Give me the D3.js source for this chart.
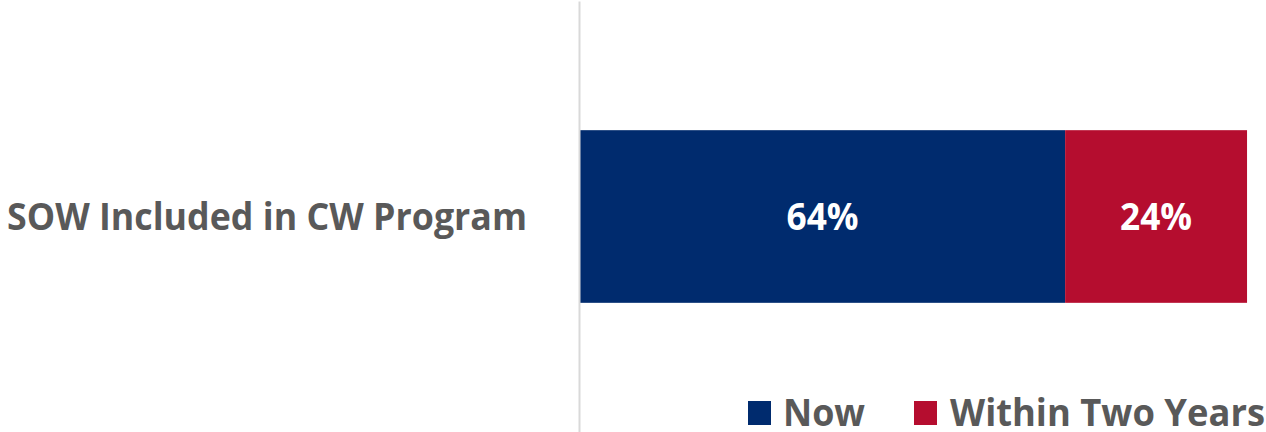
<!DOCTYPE html>
<html>
<head>
<meta charset="utf-8">
<script src="https://cdn.jsdelivr.net/npm/d3@7"></script>
<style>
  html, body { margin: 0; padding: 0; background: #fff; }
  svg { display: block; }
  text { font-family: "Open Sans", Lato, sans-serif; font-weight: 700; }
</style>
</head>
<body>
<svg id="chart" width="1266" height="432"></svg>
<script>
const categories = ["SOW Included in CW Program"];
const seriesNames = ["Now", "Within Two Years"];
const nowValues = [64];
const twoYearValues = [24];
const seriesColors = ["#002B6E", "#B50D2F"];

const W = 1266, H = 432;
const svg = d3.select("#chart");

const x0 = 580;
const x = d3.scaleLinear().domain([0, 100]).range([x0, x0 + 758]);
const y = d3.scaleBand().domain(categories).range([1, H]).paddingInner(0.428).paddingOuter(0.428);

const stackData = categories.map((c, i) => ({cat: c, Now: nowValues[i], "Within Two Years": twoYearValues[i]}));
const stacked = d3.stack().keys(seriesNames)(stackData);

// bars
const groups = svg.append("g").selectAll("g").data(stacked).join("g")
  .attr("fill", (d, i) => seriesColors[i]);
groups.selectAll("rect").data(d => d.map(v => ({v, key: d.key}))).join("rect")
  .attr("x", d => x(d.v[0]))
  .attr("y", d => y(d.v.data.cat))
  .attr("width", d => x(d.v[1]) - x(d.v[0]))
  .attr("height", y.bandwidth());

// value labels
groups.selectAll("text").data(d => d.map(v => ({v, key: d.key}))).join("text")
  .attr("x", d => (x(d.v[0]) + x(d.v[1])) / 2)
  .attr("y", d => y(d.v.data.cat) + y.bandwidth() / 2)
  .attr("dy", "0.36em")
  .attr("text-anchor", "middle")
  .attr("fill", "#fff")
  .attr("textLength", 72)
  .attr("lengthAdjust", "spacingAndGlyphs")
  .style("font-size", "37px")
  .text(d => (d.v[1] - d.v[0]) + "%");

// axis
const axis = svg.append("g").attr("transform", `translate(${x0 - 1},0)`)
  .call(d3.axisLeft(y).tickSize(0).tickPadding(52));
axis.select(".domain").attr("stroke", "#D9D9D9").attr("stroke-width", 2);
axis.selectAll(".tick text")
  .attr("fill", "#595959")
  .style("font-size", "38px")
  .style("font-family", "'Open Sans', Lato, sans-serif")
  .style("font-weight", 700)
  .attr("dy", "0.36em")
  .attr("textLength", 520)
  .attr("lengthAdjust", "spacingAndGlyphs");

// legend
const legendItems = [
  {name: seriesNames[0], color: seriesColors[0], sx: 748, tx: 783, tw: 82},
  {name: seriesNames[1], color: seriesColors[1], sx: 914, tx: 950, tw: 315}
];
const lg = svg.append("g");
legendItems.forEach(it => {
  lg.append("rect").attr("x", it.sx).attr("y", 401).attr("width", 23).attr("height", 24).attr("fill", it.color);
  lg.append("text").attr("x", it.tx).attr("y", 426)
    .attr("fill", "#595959")
    .style("font-size", "38px")
    .attr("textLength", it.tw)
    .attr("lengthAdjust", "spacingAndGlyphs")
    .text(it.name);
});
</script>
</body>
</html>
